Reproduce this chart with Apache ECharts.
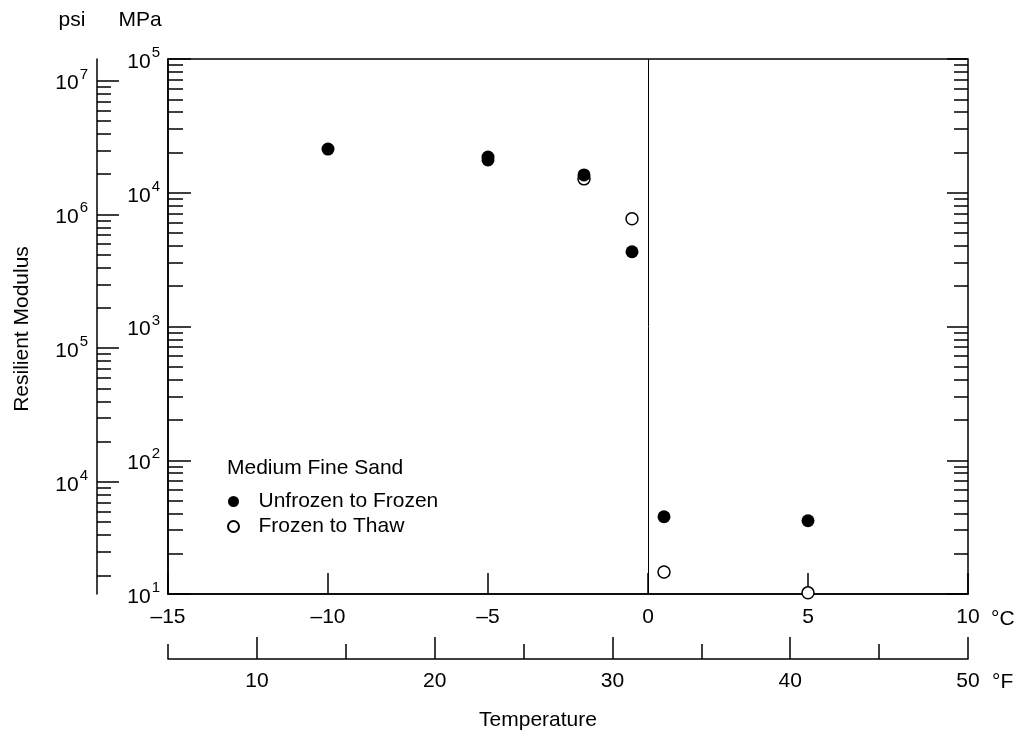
<!DOCTYPE html>
<html><head><meta charset="utf-8">
<script src="https://cdn.jsdelivr.net/npm/echarts@6/dist/echarts.min.js"></script>
<style>html,body{margin:0;padding:0;background:#fff}#c{width:1026px;height:735px}</style>
</head><body><div id="c"></div>
<script>
// ---- data ----
const unfrozenToFrozenC   = [-10, -5, -5, -2, -0.5, 0.5, 5];
const unfrozenToFrozenMPa = [21200, 18500, 17600, 13600, 3620, 37.8, 35.3];
const frozenToThawC   = [-2, -0.5, 0.5, 5];
const frozenToThawMPa = [12700, 6400, 14.6, 10.2];

const celsiusTicks = [-15, -10, -5, 0, 5, 10];
const fahrenheitMajorTicks = [10, 20, 30, 40, 50];
const fahrenheitMinorTicks = [5, 15, 25, 35, 45];
const mpaMajorTicks = [10, 100, 1000, 10000, 100000];
const psiMajorTicks = [1e4, 1e5, 1e6, 1e7];
const PSI_PER_MPA = 145.038;

// ---- helpers ----
const FONT = "'Liberation Sans', Arial, Helvetica, sans-serif";
const FS = 21;
const BLACK = '#000';
function minorsOf(lo, hi) { // 2..9 multiples of decades inside [lo, hi]
  const out = [];
  for (let e = -1; e <= 9; e++) for (let k = 2; k <= 9; k++) {
    const v = k * Math.pow(10, e);
    if (v > lo * 1.0001 && v < hi * 0.9999) out.push(v);
  }
  return out;
}
const mpaMin = mpaMajorTicks[0], mpaMax = mpaMajorTicks[mpaMajorTicks.length - 1];
const mpaMinorLog = minorsOf(mpaMin, mpaMax).map(Math.log10);
const psiMinorLog = minorsOf(mpaMin * PSI_PER_MPA, mpaMax * PSI_PER_MPA).map(Math.log10);
const psiMajorLog = psiMajorTicks.map(Math.log10);
const mpaMajorLog = mpaMajorTicks.map(Math.log10);
const logMin = Math.log10(mpaMin), logMax = Math.log10(mpaMax);
const psiLogMin = Math.log10(mpaMin * PSI_PER_MPA), psiLogMax = Math.log10(mpaMax * PSI_PER_MPA);

const rich = {
  b: { fontSize: FS, fontFamily: FONT, color: BLACK, padding: [6, 0, 0, 0] },
  s: { fontSize: 15, fontFamily: FONT, color: BLACK, padding: [0, 0, 12, 1] }
};
const supLabel = exp => '{b|10}{s|' + exp + '}';
const lineW = 1.5;
const axisLineOn = { show: true, onZero: false, lineStyle: { color: BLACK, width: lineW } };
const axisLineOff = { show: false, onZero: false };
const tick = (len, vals) => {
  const t = { show: true, inside: true, length: len, lineStyle: { color: BLACK, width: lineW } };
  if (vals) t.customValues = vals;
  return t;
};
const noLabel = { show: false };
const noSplit = { show: false };
const zip = (a, b) => a.map((v, i) => [v, b[i]]);

const chart = echarts.init(document.getElementById('c'), null, { renderer: 'canvas' });
chart.setOption({
  animation: false,
  backgroundColor: '#fff',
  textStyle: { fontFamily: FONT, color: BLACK },
  grid: { left: 168, right: 58, top: 59, bottom: 141, show: true, borderColor: BLACK, borderWidth: lineW,
          containLabel: false, outerBoundsMode: 'none' },
  title: { text: 'Medium Fine Sand', left: 227, top: 458, padding: 0,
           textStyle: { fontSize: FS, fontWeight: 'normal', fontFamily: FONT, color: BLACK } },
  legend: {
    data: ['Unfrozen to Frozen', 'Frozen to Thaw'],
    orient: 'vertical', left: 227, top: 491, padding: 0,
    itemWidth: 40, itemHeight: 11, itemGap: 4, icon: 'circle', selectedMode: false,
    textStyle: { fontSize: FS, fontFamily: FONT, color: BLACK }
  },
  xAxis: [
    { type: 'value', min: celsiusTicks[0], max: celsiusTicks[celsiusTicks.length - 1], interval: 5,
      position: 'bottom', axisLine: axisLineOn, axisTick: tick(21), splitLine: noSplit,
      axisLabel: { margin: 13, fontSize: FS, fontFamily: FONT, color: BLACK,
                   formatter: v => v < 0 ? '\u2013' + Math.abs(v) : String(v) } },
    { type: 'value', min: 5, max: 50, position: 'bottom', offset: 65,
      axisLine: axisLineOn, axisTick: tick(22, fahrenheitMajorTicks), splitLine: noSplit,
      axisLabel: { customValues: fahrenheitMajorTicks, margin: 12, fontSize: FS, fontFamily: FONT, color: BLACK } },
    { type: 'value', min: 5, max: 50, position: 'bottom', offset: 65,
      axisLine: axisLineOff, axisTick: tick(15, fahrenheitMinorTicks), splitLine: noSplit, axisLabel: noLabel }
  ],
  yAxis: [
    { type: 'log', logBase: 10, min: mpaMin, max: mpaMax, position: 'left',
      axisLine: axisLineOn, axisTick: tick(23), splitLine: noSplit, minorTick: { show: false },
      axisLabel: { margin: 8, rich: rich, formatter: v => supLabel(Math.round(Math.log10(v))) } },
    { type: 'value', min: logMin, max: logMax, position: 'left',
      axisLine: axisLineOff, axisTick: tick(15, mpaMinorLog), splitLine: noSplit, axisLabel: noLabel },
    { type: 'value', min: psiLogMin, max: psiLogMax, position: 'left', offset: 71,
      axisLine: axisLineOn, axisTick: tick(22, psiMajorLog), splitLine: noSplit,
      axisLabel: { customValues: psiMajorLog, margin: 9, rich: rich, formatter: v => supLabel(Math.round(v)) } },
    { type: 'value', min: psiLogMin, max: psiLogMax, position: 'left', offset: 71,
      axisLine: axisLineOff, axisTick: tick(14, psiMinorLog), splitLine: noSplit, axisLabel: noLabel },
    { type: 'value', min: logMin, max: logMax, position: 'right',
      axisLine: axisLineOff, axisTick: tick(21, mpaMajorLog), splitLine: noSplit, axisLabel: noLabel },
    { type: 'value', min: logMin, max: logMax, position: 'right',
      axisLine: axisLineOff, axisTick: tick(14, mpaMinorLog), splitLine: noSplit, axisLabel: noLabel }
  ],
  series: [
    { name: 'Frozen to Thaw', type: 'scatter', xAxisIndex: 0, yAxisIndex: 0, clip: false, z: 3,
      data: zip(frozenToThawC, frozenToThawMPa), symbol: 'circle', symbolSize: 12,
      itemStyle: { color: '#fff', borderColor: BLACK, borderWidth: 1.5, opacity: 1 },
      emphasis: { disabled: true } },
    { name: 'Unfrozen to Frozen', type: 'scatter', xAxisIndex: 0, yAxisIndex: 0, clip: false, z: 4,
      data: zip(unfrozenToFrozenC, unfrozenToFrozenMPa), symbol: 'circle', symbolSize: 13,
      itemStyle: { color: BLACK, borderColor: BLACK, borderWidth: 0, opacity: 1 },
      emphasis: { disabled: true },
      markLine: { silent: true, symbol: ['none', 'none'], label: { show: false },
                  lineStyle: { color: BLACK, width: 1, type: 'solid' }, emphasis: { disabled: true },
                  data: [{ xAxis: 0 }] } }
  ],
  graphic: [
    { type: 'text', x: 72, y: 20, style: { text: 'psi', fontSize: FS, fontFamily: FONT, fill: BLACK, align: 'center', verticalAlign: 'middle' } },
    { type: 'text', x: 140, y: 20, style: { text: 'MPa', fontSize: FS, fontFamily: FONT, fill: BLACK, align: 'center', verticalAlign: 'middle' } },
    { type: 'text', x: 22, y: 329, rotation: Math.PI / 2, style: { text: 'Resilient Modulus', fontSize: FS, fontFamily: FONT, fill: BLACK, align: 'center', verticalAlign: 'middle' } },
    { type: 'text', x: 991, y: 619, style: { text: '\u00B0C', fontSize: FS, fontFamily: FONT, fill: BLACK, align: 'left', verticalAlign: 'middle' } },
    { type: 'text', x: 992, y: 682, style: { text: '\u00B0F', fontSize: FS, fontFamily: FONT, fill: BLACK, align: 'left', verticalAlign: 'middle' } },
    { type: 'text', x: 538, y: 720, style: { text: 'Temperature', fontSize: FS, fontFamily: FONT, fill: BLACK, align: 'center', verticalAlign: 'middle' } }
  ]
});
</script>
</body></html>
